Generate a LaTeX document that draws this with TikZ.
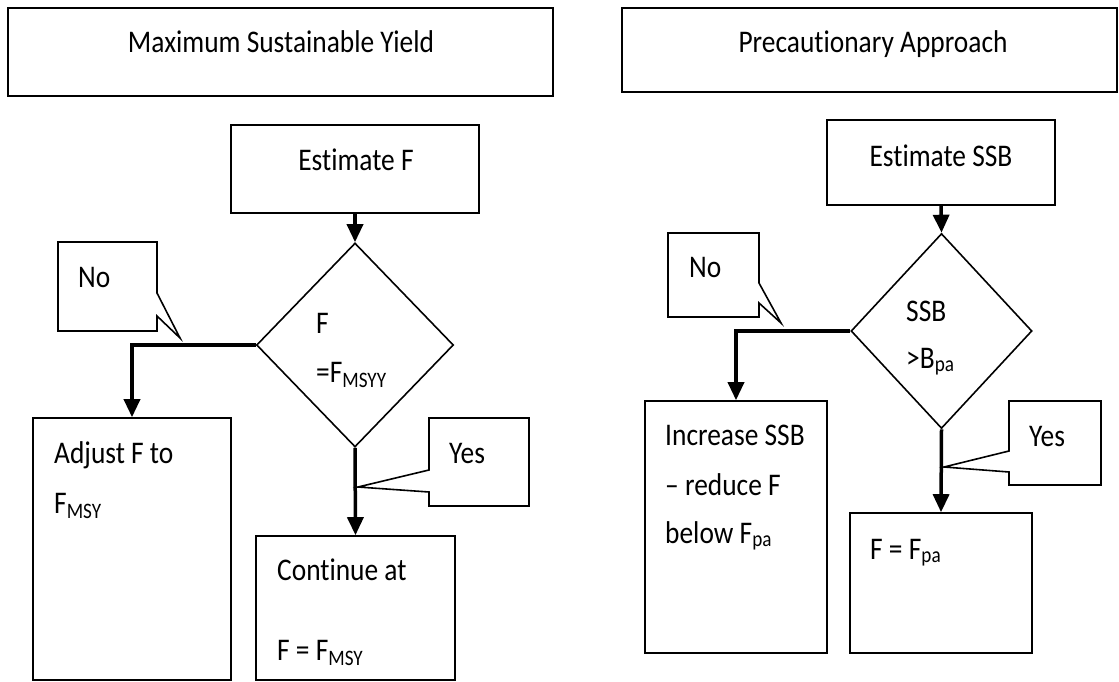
\documentclass[tikz,border=0pt]{standalone}
\usepackage{fontspec}
\setmainfont{Carlito}[FakeStretch=0.87,Ligatures={TeX,NoCommon}]
\usetikzlibrary{arrows.meta,shapes.geometric}
\newcommand{\mysub}[1]{\textsubscript{#1}}
\begin{document}
\begin{tikzpicture}[x=1pt,y=-1pt,
  box/.style={draw, line width=1.6pt, rectangle, inner sep=0pt},
  dia/.style={draw, line width=1.6pt, diamond, inner sep=0pt},
  lbl/.style={anchor=base west, inner sep=0pt, font=\fontsize{31.5}{38}\selectfont},
  ctr/.style={anchor=base, inner sep=0pt, font=\fontsize{31.5}{38}\selectfont},
  conn/.style={line width=3.5pt, -{Triangle[width=16pt,length=18pt]}},
  bubble/.style={draw, line width=1.6pt, line join=miter}]
\useasboundingbox (0,0) rectangle (1119,682);

% ---- Left: Maximum Sustainable Yield ----
\node[box, minimum width=545pt, minimum height=88pt] (msy) at (280.5,52) {};
\node[ctr] (msyt) at (281,53) {Maximum Sustainable Yield};

\node[box, minimum width=248pt, minimum height=88pt] (estF) at (355,169) {};
\node[ctr] (estFt) at (356,170) {Estimate F};

\node[dia, minimum width=197pt, minimum height=204pt] (d1) at (355,345) {};
\node[lbl] (d1a) at (316,333) {F};
\node[lbl] (d1b) at (316,382) {=F\mysub{MSYY}};

\node[box, minimum width=198pt, minimum height=262pt] (adj) at (132,549) {};
\node[lbl] (adja) at (54,463) {Adjust F to};
\node[lbl] (adjb) at (54,513) {F\mysub{MSY}};

\node[box, minimum width=199pt, minimum height=144pt] (cont) at (355.5,608) {};
\node[lbl] (conta) at (277,580) {Continue at};
\node[lbl] (contb) at (277,660) {F = F\mysub{MSY}};

\draw[bubble] (58,242) -- (157,242) -- (157,293) -- (180,338) -- (157,316) -- (157,331) -- (58,331) -- cycle;
\node[lbl] (no1) at (78,287) {No};
\draw[bubble] (429,418) -- (529,418) -- (529,506) -- (429,506) -- (429,492) -- (358,487) -- (429,470) -- cycle;
\node[lbl] (yes1) at (449,463) {Yes};

\draw[conn] (estF.south) -- (d1.north);
\draw[conn] (d1.west) -| (adj.north);
\draw[conn] (d1.south) -- (cont.north);

% ---- Right: Precautionary Approach ----
\node[box, minimum width=495pt, minimum height=84pt] (pa) at (869.5,50) {};
\node[ctr] (pat) at (873,53) {Precautionary Approach};

\node[box, minimum width=228pt, minimum height=85pt] (estS) at (941,162.5) {};
\node[ctr] (estSt) at (941,166) {Estimate SSB};

\node[dia, minimum width=181pt, minimum height=195pt] (d2) at (941.5,331) {};
\node[lbl] (d2a) at (906,321) {SSB};
\node[lbl] (d2b) at (906,368) {>B\mysub{pa}};

\node[box, minimum width=182pt, minimum height=252pt] (inc) at (736,527) {};
\node[lbl] (inca) at (665,445) {Increase SSB};
\node[lbl] (incb) at (665,495) {-- reduce F};
\node[lbl] (incc) at (665,543) {below F\mysub{pa}};

\node[box, minimum width=182pt, minimum height=140pt] (fpa) at (941,583) {};
\node[lbl] (fpat) at (870,559) {F = F\mysub{pa}};

\draw[bubble] (668,233) -- (759,233) -- (759,283) -- (781,323) -- (759,303) -- (759,317) -- (668,317) -- cycle;
\node[lbl] (no2) at (689,277) {No};
\draw[bubble] (1009,401) -- (1101,401) -- (1101,485) -- (1009,485) -- (1009,472) -- (944,467) -- (1009,451) -- cycle;
\node[lbl] (yes2) at (1029,446) {Yes};

\draw[conn] (estS.south) -- (d2.north);
\draw[conn] (d2.west) -| (inc.north);
\draw[conn] (d2.south) -- (fpa.north);
\end{tikzpicture}
\end{document}
